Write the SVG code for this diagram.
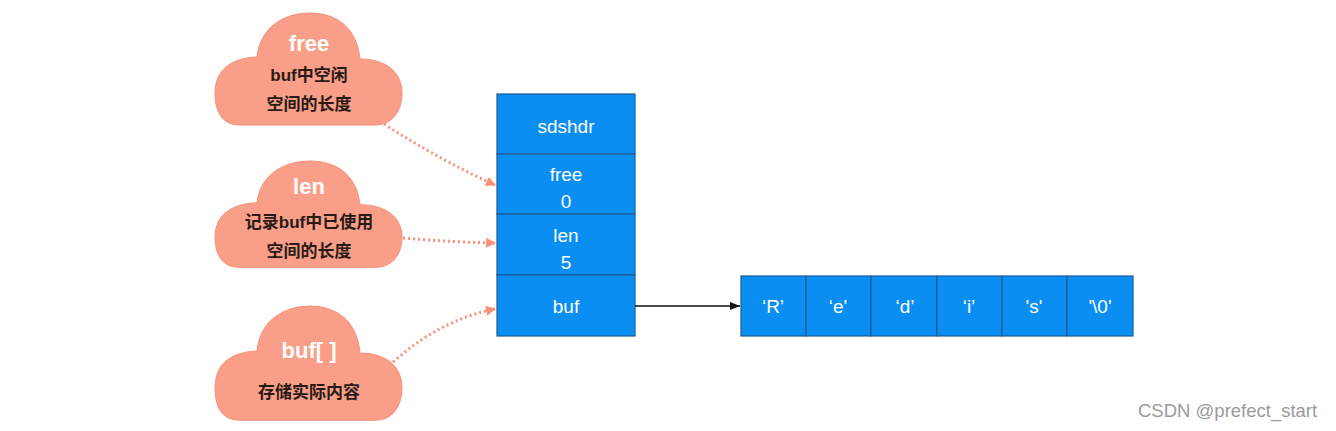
<svg xmlns="http://www.w3.org/2000/svg" width="1336" height="431" viewBox="0 0 1336 431">
<style>
.cloud{fill:#f99f89;stroke:#f6917a;stroke-width:1}
.ctitle{font-family:"Liberation Sans","Noto Sans CJK SC",sans-serif;font-size:22px;font-weight:bold;fill:#ffffff;text-anchor:middle}
.cdesc{font-family:"Liberation Sans","Noto Sans CJK SC",sans-serif;font-size:17px;font-weight:bold;fill:#2a1a16;text-anchor:middle}
.cell{fill:#0b8ef2;stroke:#1d5a94;stroke-width:1.2}
.ctext{font-family:"Liberation Sans",sans-serif;font-size:19px;fill:#ffffff;text-anchor:middle}
.dot{fill:none;stroke:#f6917a;stroke-width:3;stroke-dasharray:2 3}
.wm{font-family:"Liberation Sans",sans-serif;font-size:18.5px;fill:#9a9a9a}
</style>
<defs>
<path id="cloudShape" d="M25 112 C5 112 0 96 0 80 C0 58 15 45 42 44 C45 15 68 0 95 0 C122 0 142 15 145 46 C172 46 187 60 187 80 C187 100 176 112 160 112 Z"/>
<marker id="sal" markerWidth="10" markerHeight="10" refX="9" refY="5" orient="auto" markerUnits="userSpaceOnUse" viewBox="0 0 10 10">
<path d="M0 0 L10 5 L0 10 Z" fill="#f6917a"/>
</marker>
<marker id="blk" markerWidth="10" markerHeight="10" refX="10" refY="5" orient="auto" markerUnits="userSpaceOnUse" viewBox="0 0 10 10">
<path d="M0 1 L10 5 L0 9 Z" fill="#111"/>
</marker>
</defs>
<rect width="1336" height="431" fill="#ffffff"/>

<g id="cloud-free">
<use href="#cloudShape" class="cloud" transform="translate(215,13)"/>
<text class="ctitle" x="309" y="51">free</text>
<text class="cdesc" x="309" y="81">buf中空闲</text>
<text class="cdesc" x="309" y="110">空间的长度</text>
</g>
<g id="cloud-len">
<use href="#cloudShape" class="cloud" transform="translate(215,161) scale(1,0.95)"/>
<text class="ctitle" x="309" y="194">len</text>
<text class="cdesc" x="309" y="228">记录buf中已使用</text>
<text class="cdesc" x="309" y="257">空间的长度</text>
</g>
<g id="cloud-buf">
<use href="#cloudShape" class="cloud" transform="translate(215,306) scale(1,1.02)"/>
<text class="ctitle" x="309" y="358">buf[ ]</text>
<text class="cdesc" x="309" y="398">存储实际内容</text>
</g>

<g id="sdshdr">
<rect class="cell" x="497" y="94" width="138" height="60"/>
<rect class="cell" x="497" y="154" width="138" height="60"/>
<rect class="cell" x="497" y="214" width="138" height="61"/>
<rect class="cell" x="497" y="275" width="138" height="61"/>
<text class="ctext" x="566" y="133">sdshdr</text>
<text class="ctext" x="566" y="181">free</text>
<text class="ctext" x="566" y="208">0</text>
<text class="ctext" x="566" y="242">len</text>
<text class="ctext" x="566" y="269">5</text>
<text class="ctext" x="566" y="313">buf</text>
</g>

<g id="buf-array">
<rect class="cell" x="741" y="276" width="65" height="60"/>
<rect class="cell" x="806" y="276" width="65" height="60"/>
<rect class="cell" x="871" y="276" width="66" height="60"/>
<rect class="cell" x="937" y="276" width="65" height="60"/>
<rect class="cell" x="1002" y="276" width="65" height="60"/>
<rect class="cell" x="1067" y="276" width="66" height="60"/>
<text class="ctext" x="773" y="313">‘R’</text>
<text class="ctext" x="838" y="313">‘e'</text>
<text class="ctext" x="905" y="313">‘d’</text>
<text class="ctext" x="969" y="313">‘i’</text>
<text class="ctext" x="1034" y="313">'s'</text>
<text class="ctext" x="1100" y="313">'\0'</text>
</g>

<g id="connectors">
<path class="dot" d="M384 124 Q440 160 495 185" marker-end="url(#sal)"/>
<path class="dot" d="M403 238 Q450 242 495 243" marker-end="url(#sal)"/>
<path class="dot" d="M393 362 Q440 320 495 309" marker-end="url(#sal)"/>
<line x1="635" y1="306" x2="740" y2="306" stroke="#111" stroke-width="1.3" marker-end="url(#blk)"/>
</g>

<text class="wm" x="1138" y="417">CSDN @prefect_start</text>
</svg>
